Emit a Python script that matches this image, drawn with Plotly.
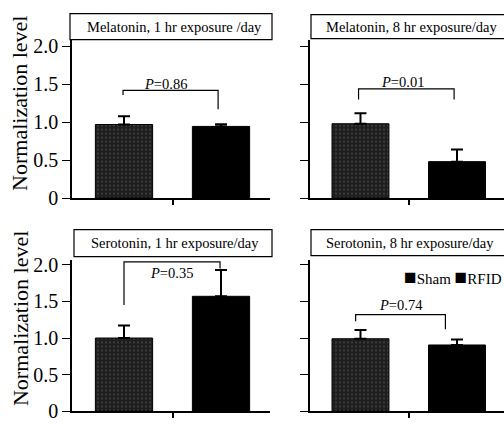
import plotly.graph_objects as go

# ---------------- data ----------------
panel_titles = ["Melatonin, 1 hr exposure /day", "Melatonin, 8 hr exposure/day",
                "Serotonin, 1 hr exposure/day", "Serotonin, 8 hr exposure/day"]
groups = ["Sham", "RFID"]
sham_vals = [0.97, 0.98, 1.00, 0.99]
rfid_vals = [0.945, 0.48, 1.57, 0.905]
sham_err = [0.11, 0.14, 0.17, 0.12]
rfid_err = [0.03, 0.16, 0.36, 0.075]
p_values = ["0.86", "0.01", "0.35", "0.74"]
bracket_top = [1.42, 1.44, 2.04, 1.32]
bracket_left_end = [1.36, 1.30, 1.45, 1.23]
bracket_right_end = [1.17, 1.30, 1.95, 1.12]
bracket_left_x = [0.99, 0.98, 1.00, 0.95]
bracket_right_x = [1.97, 1.97, 1.99, 1.88]
p_text_x = [1.43, 1.44, 1.49, 1.42]
p_text_y = [1.50, 1.53, 1.89, 1.45]
y_tickvals = [0, 0.5, 1.0, 1.5, 2.0]
y_ticktext = ["0", "0.5", "1.0", "1.5", "2.0"]
bar_x = [1, 2]

SERIF = "Liberation Serif"
W, H = 504, 427

fig = go.Figure()

suffix = ["", "2", "3", "4"]
x_domains = [[72 / W, 270 / W], [310 / W, 1.0], [72 / W, 270 / W], [310 / W, 1.0]]
y_domains = [[(H - 200) / H, (H - 35) / H], [(H - 200) / H, (H - 35) / H],
             [(H - 422) / H, (H - 265) / H], [(H - 422) / H, (H - 265) / H]]
y_ranges = [[0, 2.09], [0, 2.09], [0, 2.06], [0, 2.06]]
x_ranges = [[0.464, 2.505], [0.477, 2.487], [0.464, 2.505], [0.477, 2.487]]

shapes = []
annotations = []

for i in range(4):
    xa = "x" + suffix[i]
    ya = "y" + suffix[i]
    fig.add_trace(go.Bar(
        x=[bar_x[0]], y=[sham_vals[i]], width=0.59, xaxis=xa, yaxis=ya,
        marker=dict(color="#1e1e1e", line=dict(color="black", width=1),
                    pattern=dict(shape=".", fgcolor="#a8a8a8", bgcolor="#1e1e1e",
                                 size=4, solidity=0.12)),
        error_y=dict(type="data", symmetric=False, array=[sham_err[i]], arrayminus=[0],
                     color="black", thickness=2, width=6),
        showlegend=False, name=groups[0]))
    fig.add_trace(go.Bar(
        x=[bar_x[1]], y=[rfid_vals[i]], width=0.59, xaxis=xa, yaxis=ya,
        marker=dict(color="black", line=dict(color="black", width=1)),
        error_y=dict(type="data", symmetric=False, array=[rfid_err[i]], arrayminus=[0],
                     color="black", thickness=2, width=6),
        showlegend=False, name=groups[1]))

    # bracket
    shapes.append(dict(type="path", xref=xa, yref=ya,
                       path=f"M {bracket_left_x[i]} {bracket_left_end[i]} L {bracket_left_x[i]} {bracket_top[i]} "
                            f"L {bracket_right_x[i]} {bracket_top[i]} L {bracket_right_x[i]} {bracket_right_end[i]}",
                       line=dict(color="black", width=1.2)))
    annotations.append(dict(xref=xa, yref=ya, x=p_text_x[i], y=p_text_y[i],
                            text=f"<i>P</i>=" + p_values[i], showarrow=False,
                            font=dict(family=SERIF, size=14.5, color="black")))

layout_axes = {}
for i in range(4):
    layout_axes["xaxis" + suffix[i]] = dict(
        domain=x_domains[i], range=x_ranges[i], anchor="y" + suffix[i],
        showline=True, linecolor="black", linewidth=1.5, tickvals=[1.5],
        ticks="outside", ticklen=5, tickcolor="black", tickwidth=1.5,
        showticklabels=False, showgrid=False, zeroline=False, fixedrange=True)
    layout_axes["yaxis" + suffix[i]] = dict(
        domain=y_domains[i], range=y_ranges[i], anchor="x" + suffix[i],
        showline=True, linecolor="black", linewidth=1.5,
        tickvals=y_tickvals, ticktext=y_ticktext, ticks="outside", ticklen=8,
        tickcolor="black", tickwidth=1.2, showticklabels=(i % 2 == 0),
        tickfont=dict(family=SERIF, size=20, color="black"),
        showgrid=False, zeroline=False, fixedrange=True)

# title boxes (paper px -> fraction)
boxes = [(70, 272, 8, 35), (311, 506, 9, 34), (74, 272, 233, 261), (311, 506, 233, 260)]
title_cx = [174, 411, 175, 410]
for i, (x0, x1, y0, y1) in enumerate(boxes):
    shapes.append(dict(type="rect", xref="paper", yref="paper",
                       x0=x0 / W, x1=x1 / W, y0=(H - y1) / H, y1=(H - y0) / H,
                       line=dict(color="black", width=1.2), fillcolor="white", layer="above"))
    annotations.append(dict(xref="paper", yref="paper", x=title_cx[i] / W, y=(H - (y0 + y1) / 2) / H,
                            text=panel_titles[i], showarrow=False, xanchor="center", yanchor="middle",
                            font=dict(family=SERIF, size=14.5, color="black")))

# y-axis titles
for cy in [102, 326]:
    annotations.append(dict(xref="paper", yref="paper", x=20 / W, y=(H - cy) / H,
                            text="Normalization level", textangle=-90, showarrow=False,
                            xanchor="center", yanchor="middle",
                            font=dict(family=SERIF, size=22, color="black")))

# legend
sq = "<span style='font-size:21px'>■</span>"
annotations.append(dict(xref="paper", yref="paper", x=504 / W, y=(H - 282) / H,
                        text=sq + groups[0] + " " + sq + groups[1], showarrow=False,
                        xanchor="right", yanchor="middle",
                        font=dict(family=SERIF, size=15, color="black")))

fig.update_layout(width=W, height=H, margin=dict(l=0, r=0, t=0, b=0),
                  paper_bgcolor="white", plot_bgcolor="white",
                  font=dict(family=SERIF, color="black"),
                  shapes=shapes, annotations=annotations, barmode="overlay",
                  **layout_axes)

fig.write_html("out.html")
